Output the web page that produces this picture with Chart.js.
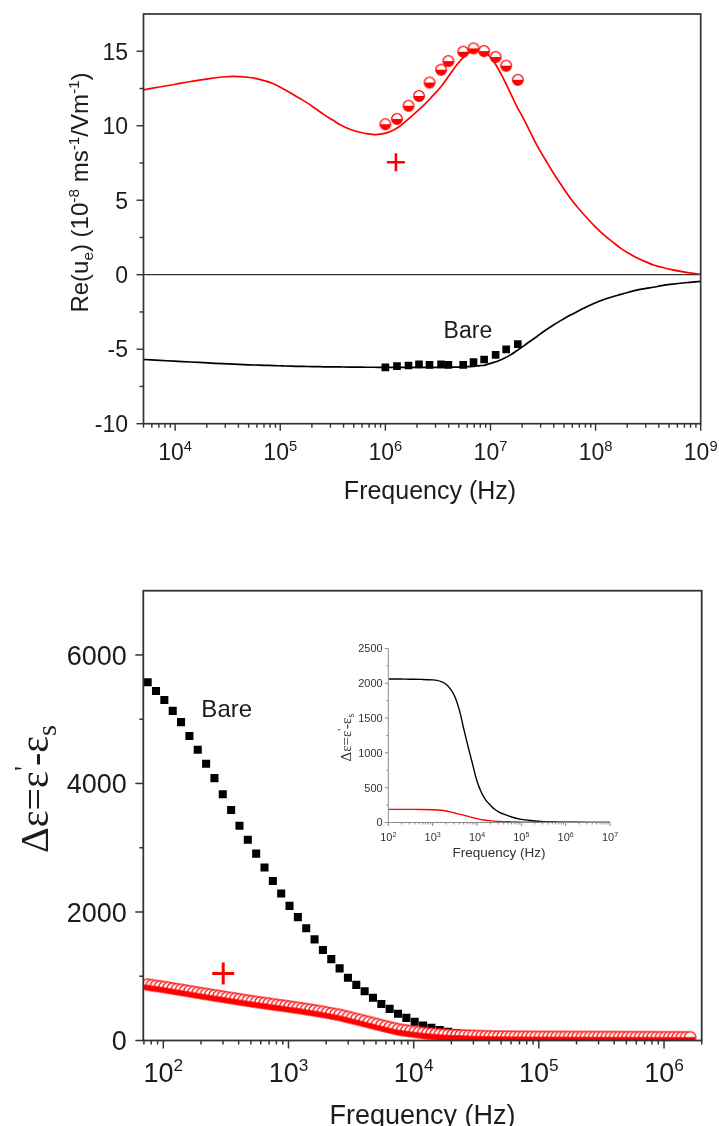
<!DOCTYPE html>
<html><head><meta charset="utf-8">
<script src="https://cdn.jsdelivr.net/npm/chart.js@4.4.1/dist/chart.umd.min.js"></script>
<style>
html,body{margin:0;padding:0;background:#fff;}
#wrap{position:relative;width:719px;height:1126px;overflow:hidden;background:#fff;}
canvas{position:absolute;}
</style>
</head><body><div id="wrap">
<canvas id="cTop" width="719" height="540" style="left:0;top:0"></canvas>
<canvas id="cBot" width="719" height="586" style="left:0;top:540px"></canvas>
<canvas id="cIns" width="320" height="250" style="left:310px;top:630px"></canvas>
</div>
<script>
// ================= DATA =================
// --- top panel: Re(u_e) vs frequency ---
const topFitFreq = [5.01e3,7.08e3,9.77e3,1.41e4,2.04e4,2.82e4,3.63e4,4.47e4,5.62e4,7.08e4,
  8.71e4,1.05e5,1.26e5,1.51e5,1.82e5,2.19e5,2.63e5,3.16e5,3.72e5,4.47e5,
  5.37e5,6.46e5,7.76e5,9.33e5,1.12e6,1.35e6,1.62e6,1.95e6,2.34e6,2.82e6,
  3.39e6,4.07e6,4.79e6,5.75e6,6.92e6,7.94e6,8.71e6,1.0e7,1.15e7,1.32e7,
  1.55e7,1.78e7,2.09e7,2.40e7,2.75e7,3.31e7,3.98e7,4.79e7,5.75e7,6.92e7,
  8.32e7,1.0e8,1.20e8,1.45e8,1.74e8,2.09e8,2.51e8,3.02e8,3.55e8,4.27e8,
  5.13e8,7.08e8,1.0e9];
const topFitCoated = [12.41,12.6,12.77,12.97,13.15,13.27,13.31,13.28,13.2,13.02,
  12.8,12.5,12.19,11.86,11.52,11.12,10.73,10.38,10.06,9.8,
  9.61,9.48,9.41,9.45,9.61,9.93,10.4,10.9,11.4,12.0,
  12.63,13.4,14.09,14.7,15.12,15.12,14.99,14.6,13.98,13.2,
  12.19,11.3,10.4,9.55,8.72,7.75,6.81,5.95,5.13,4.43,
  3.79,3.2,2.67,2.2,1.77,1.42,1.10,0.86,0.65,0.5,
  0.36,0.18,0.03];
const topFitBare = [-5.69,-5.75,-5.80,-5.86,-5.92,-5.97,-6.00,-6.03,-6.06,-6.08,
  -6.10,-6.12,-6.14,-6.15,-6.16,-6.17,-6.18,-6.18,-6.19,-6.20,
  -6.20,-6.21,-6.21,-6.22,-6.22,-6.22,-6.22,-6.22,-6.22,-6.22,
  -6.22,-6.21,-6.20,-6.18,-6.15,-6.10,-6.08,-5.95,-5.82,-5.64,
  -5.38,-5.10,-4.76,-4.45,-4.16,-3.74,-3.37,-3.03,-2.71,-2.42,
  -2.13,-1.88,-1.66,-1.48,-1.32,-1.16,-1.02,-0.92,-0.84,-0.73,
  -0.65,-0.54,-0.45];
const topMeasFreq = [1.0e6,1.29e6,1.66e6,2.09e6,2.63e6,3.39e6,3.98e6,5.5e6,6.9e6,8.7e6,1.12e7,1.41e7,1.82e7];
const topMeasCoated = [10.1,10.46,11.34,12.0,12.9,13.76,14.34,14.97,15.19,15.01,14.61,14.03,13.08];
const topMeasBare = [-6.22,-6.14,-6.09,-6.02,-6.05,-6.02,-6.05,-6.05,-5.87,-5.69,-5.38,-5.01,-4.66];
const topPlus = [{x:1.26e6, y:7.55}];
const topBareLabel = {x:6.1e6, y:-4.25, text:'Bare'};
const topXRange = [5000, 1e9];
const topYRange = [-10, 17.5];
const topXDecades = [4,5,6,7,8,9];
const topYTicks = [-10,-5,0,5,10,15];
const topYMinor = [-7.5,-2.5,2.5,7.5,12.5];

// --- bottom panel: delta epsilon vs frequency ---
const botBareFreq = [75.0,87.4,101.9,118.9,138.6,161.6,188.4,219.7,256.1,298.5,
  348.1,405.8,473.2,551.7,643.2,749.9,874.3,1019,1189,1386,
  1616,1884,2197,2561,2985,3481,4058,4732,5517,6432,
  7499,8743,10190,11890,13860,16160,18840,21970,25610,29850,
  34810,40580,47320,55170,64320,74990,87430,101900,118900,138600,
  161600,188400,219700,256100,298500,348100,405800,473200,551700,643200,
  749900,874300,1019000,1189000,1386000,1616000];
const botBareVals = [5574,5440,5299,5130,4955,4740,4524,4308,4083,3832,
  3587,3342,3124,2908,2692,2483,2289,2095,1920,1747,
  1574,1409,1266,1122,978,866,765,664,567,492,
  417,352,291,234,198,161,134,114,96,79,
  63,53,42,37,32,28,23,18,16,15,
  13,11,10,8,7,6,5,5,4,4,
  3,3,2,2,2,2];
const botCoatFreq = [75.0,81.0,87.4,94.4,101.9,110.0,118.9,128.4,138.6,149.7,
  161.6,174.5,188.4,203.4,219.7,237.2,256.1,276.5,298.5,322.3,
  348.1,375.9,405.8,438.2,473.2,511.0,551.7,595.7,643.2,694.5,
  749.9,809.7,874.3,944.1,1019,1100,1189,1284,1386,1497,
  1616,1745,1884,2034,2197,2372,2561,2765,2985,3223,
  3481,3759,4058,4382,4732,5110,5517,5957,6432,6945,
  7499,8097,8743,9441,10190,11000,11890,12840,13860,14970,
  16160,17450,18840,20340,21970,23720,25610,27650,29850,32230,
  34810,37590,40580,43820,47320,51100,55170,59570,64320,69450,
  74990,80970,87430,94410,101900,110000,118900,128400,138600,149700,
  161600,174500,188400,203400,219700,237200,256100,276500,298500,322300,
  348100,375900,405800,438200,473200,511000,551700,595700,643200,694500,
  749900,809700,874300,944100,1019000,1100000,1189000,1284000,1386000,1497000,
  1616000];
const botCoatVals = [870,861,851,842,832,821,810,799,789,778,
  767,756,745,734,724,713,703,693,682,672,
  661,651,641,630,620,610,601,592,582,573,
  564,555,546,537,527,518,509,499,489,478,
  468,458,446,434,422,410,398,382,367,351,
  335,320,303,286,270,253,237,221,206,190,
  175,163,154,145,137,128,119,112,107,102,
  97,92,87,84,81,79,77,74,72,70,
  68,67,65,64,62,62,61,61,60,59,
  59,58,58,57,57,57,57,56,56,56,
  56,56,55,55,55,55,55,54,54,54,
  54,54,53,53,53,53,53,52,52,52,
  52,52,51,51,51,51,51,51,50,50,
  50];
const botPlus = [{x:301, y:1043}];
const botBareLabel = {x:321, y:5036, text:'Bare'};
const botXRange = [69.2, 2.0e6];
const botYRange = [0, 7000];
const botXDecades = [2,3,4,5,6];
const botYTicks = [0,2000,4000,6000];
const botYMinor = [1000,3000,5000];

// --- inset: model curves ---
const insFreq = [100,178,316,562,1000,1259,1585,1995,2512,3162,3981,5012,6310,7943,10000,
  12589,15849,19953,25119,31623,39811,63096,100000,177828,316228,562341,1000000,3162278,10000000];
const insBare = [2060,2060,2058,2055,2048,2040,2020,1985,1920,1810,1620,1350,1090,840,595,
  430,320,250,190,150,120,75,45,25,12,7,4,2,1];
const insCoat = [188,188,188,187,183,180,175,165,152,136,120,105,88,70,55,
  42,32,25,19,15,12,8,6,4,3,2,2,1,1];
const insXRange = [100, 1e7];
const insYRange = [0, 2500];
const insXDecades = [2,3,4,5,6,7];
const insYTicks = [0,500,1000,1500,2000,2500];
const insYMinor = [250,750,1250,1750,2250];

// ================= HELPERS =================
const SANS = "'Liberation Sans', Arial, sans-serif";
const SERIF = "'Liberation Serif', 'Times New Roman', serif";
const TXT = '#1c1c1c';
const RED = '#ff0000';

const pts = (xs, ys) => xs.map((x, i) => ({x, y: ys[i]}));

function halfDot(r, color) {
  const s = Math.ceil(2 * r + 3);
  const c = document.createElement('canvas');
  c.width = s; c.height = s;
  const g = c.getContext('2d');
  const m = s / 2;
  g.beginPath(); g.arc(m, m, r, Math.PI, 2 * Math.PI); g.closePath(); g.fillStyle = '#fff'; g.fill();
  g.beginPath(); g.arc(m, m, r, 0, Math.PI); g.closePath(); g.fillStyle = color; g.fill();
  g.beginPath(); g.arc(m, m, r, 0, 2 * Math.PI); g.strokeStyle = color; g.lineWidth = 1.3; g.stroke();
  return c;
}

function line(ctx, x1, y1, x2, y2) { ctx.beginPath(); ctx.moveTo(x1, y1); ctx.lineTo(x2, y2); ctx.stroke(); }

function logMinor(min, max) {
  const out = [];
  for (let d = Math.floor(Math.log10(min)); d <= Math.ceil(Math.log10(max)); d++)
    for (let m = 2; m <= 9; m++) { const v = m * Math.pow(10, d); if (v >= min && v <= max) out.push(v); }
  return out;
}

// segs: [{t, k:'sup'|'sub'}]; (x,y) = baseline anchor
function drawRich(ctx, segs, x, y, size, family, o = {}) {
  const rot = o.rot || 0, align = o.align || 'center', sc = o.supScale || 0.64;
  ctx.save();
  ctx.translate(x, y); ctx.rotate(rot);
  let total = 0;
  const ps = segs.map(s => {
    const fs = s.k ? size * sc : size;
    ctx.font = `${fs}px ${family}`;
    const w = ctx.measureText(s.t).width;
    total += w;
    return {t: s.t, k: s.k, fs, w};
  });
  let cx = align === 'center' ? -total / 2 : (align === 'right' ? -total : 0);
  ctx.fillStyle = o.color || TXT; ctx.textAlign = 'left'; ctx.textBaseline = 'alphabetic';
  for (const p of ps) {
    ctx.font = `${p.fs}px ${family}`;
    const dy = p.k === 'sup' ? -size * 0.38 : (p.k === 'sub' ? size * 0.2 : 0);
    ctx.fillText(p.t, cx, dy);
    cx += p.w;
  }
  ctx.restore();
}

function drawAxes(chart, c) {
  const {ctx, chartArea: a} = chart;
  const x = chart.scales.x, y = chart.scales.y;
  ctx.save();
  ctx.strokeStyle = c.axisColor; ctx.lineWidth = c.axisWidth;
  if (c.box) ctx.strokeRect(a.left, a.top, a.right - a.left, a.bottom - a.top);
  else { line(ctx, a.left, a.top, a.left, a.bottom); line(ctx, a.left, a.bottom, a.right, a.bottom); }
  ctx.lineWidth = c.tickWidth;
  c.xDecades.forEach(d => { const p = x.getPixelForValue(Math.pow(10, d)); line(ctx, p, a.bottom, p, a.bottom + c.majLen); });
  logMinor(x.min, x.max).forEach(v => { const p = x.getPixelForValue(v); line(ctx, p, a.bottom, p, a.bottom + c.minLen); });
  c.yTicks.forEach(v => { const p = y.getPixelForValue(v); line(ctx, a.left, p, a.left - c.majLen, p); });
  c.yMinor.forEach(v => { const p = y.getPixelForValue(v); line(ctx, a.left, p, a.left - c.minLen, p); });
  ctx.restore();
  c.xDecades.forEach(d => {
    const p = x.getPixelForValue(Math.pow(10, d));
    drawRich(ctx, [{t: '10'}, {t: String(d), k: 'sup'}], p + (c.xLabShift || 0), c.xLabBase, c.tickFont, SANS, {color: c.labColor});
  });
  c.yTicks.forEach(v => {
    const p = y.getPixelForValue(v);
    drawRich(ctx, [{t: String(v)}], c.yLabRight, p + c.tickFont * 0.36, c.tickFont, SANS, {align: 'right', color: c.labColor});
  });
}

const noScale = (r, type) => ({type, min: r[0], max: r[1], display: false});
const baseOpts = (pad, xr, yr) => ({
  responsive: false, animation: false, devicePixelRatio: 1,
  layout: {padding: pad},
  plugins: {legend: {display: false}, tooltip: {enabled: false}},
  scales: {x: noScale(xr, 'logarithmic'), y: noScale(yr, 'linear')}
});

// ================= TOP CHART =================
new Chart(document.getElementById('cTop'), {
  type: 'scatter',
  data: {datasets: [
    {data: topPlus, pointStyle: 'cross', pointRadius: 9, pointBorderColor: RED, pointBorderWidth: 2.6, showLine: false},
    {data: pts(topMeasFreq, topMeasBare), pointStyle: 'rect', pointRadius: 5.4, pointBackgroundColor: '#000', pointBorderColor: '#000', pointBorderWidth: 0, showLine: false},
    {data: pts(topMeasFreq, topMeasCoated), pointStyle: halfDot(5.3, RED), pointRadius: 5.3, showLine: false},
    {data: pts(topFitFreq, topFitCoated), showLine: true, pointRadius: 0, borderColor: RED, borderWidth: 1.7, tension: 0.4},
    {data: pts(topFitFreq, topFitBare), showLine: true, pointRadius: 0, borderColor: '#000', borderWidth: 1.7, tension: 0.4}
  ]},
  options: baseOpts({left: 143.5, right: 18.3, top: 14, bottom: 116.3}, topXRange, topYRange),
  plugins: [{
    id: 'topDecor',
    beforeDatasetsDraw(chart) {
      const {ctx, chartArea: a} = chart; const p = chart.scales.y.getPixelForValue(0);
      ctx.save(); ctx.strokeStyle = '#333'; ctx.lineWidth = 1.3; line(ctx, a.left, p, a.right, p); ctx.restore();
    },
    afterDraw(chart) {
      const {ctx} = chart;
      drawAxes(chart, {box: true, axisColor: '#333', axisWidth: 1.7, tickWidth: 1.4, majLen: 7, minLen: 4,
        xDecades: topXDecades, yTicks: topYTicks, yMinor: topYMinor, tickFont: 23, xLabBase: 460, yLabRight: 128, labColor: TXT});
      drawRich(ctx, [{t: 'Frequency (Hz)'}], 430, 499, 25, SANS);
      drawRich(ctx, [{t: 'Re(u'}, {t: 'e', k: 'sub'}, {t: ') (10'}, {t: '-8', k: 'sup'}, {t: ' ms'}, {t: '-1', k: 'sup'}, {t: '/Vm'}, {t: '-1', k: 'sup'}, {t: ')'}],
        88, 192.5, 24, SANS, {rot: -Math.PI / 2});
      const bx = chart.scales.x.getPixelForValue(topBareLabel.x), by = chart.scales.y.getPixelForValue(topBareLabel.y);
      drawRich(ctx, [{t: topBareLabel.text}], bx, by, 23, SANS);
    }
  }]
});

// ================= BOTTOM CHART =================
new Chart(document.getElementById('cBot'), {
  type: 'scatter',
  data: {datasets: [
    {data: botPlus, pointStyle: 'cross', pointRadius: 11, pointBorderColor: RED, pointBorderWidth: 3, showLine: false},
    {data: pts(botCoatFreq, botCoatVals), pointStyle: halfDot(5.6, RED), pointRadius: 5.6, showLine: false},
    {data: pts(botBareFreq, botBareVals), pointStyle: 'rect', pointRadius: 5.7, pointBackgroundColor: '#000', pointBorderColor: '#000', pointBorderWidth: 0, showLine: false}
  ]},
  options: baseOpts({left: 143.3, right: 17.3, top: 50.7, bottom: 85.5}, botXRange, botYRange),
  plugins: [{
    id: 'botDecor',
    afterDraw(chart) {
      const {ctx} = chart;
      drawAxes(chart, {box: true, axisColor: '#333', axisWidth: 1.8, tickWidth: 1.5, majLen: 8, minLen: 4,
        xDecades: botXDecades, yTicks: botYTicks, yMinor: botYMinor, tickFont: 27, xLabBase: 541.7, yLabRight: 126.7, labColor: TXT});
      drawRich(ctx, [{t: 'Frequency (Hz)'}], 422.5, 584, 27, SANS);
      drawRich(ctx, [{t: 'Δε=ε'}, {t: "'", k: 'sup'}, {t: '-ε'}, {t: 's', k: 'sub'}], 48, 249, 40, SERIF, {rot: -Math.PI / 2, supScale: 0.7});
      const bx = chart.scales.x.getPixelForValue(botBareLabel.x), by = chart.scales.y.getPixelForValue(botBareLabel.y);
      drawRich(ctx, [{t: botBareLabel.text}], bx, by, 24, SANS);
    }
  }]
});

// ================= INSET =================
new Chart(document.getElementById('cIns'), {
  type: 'scatter',
  data: {datasets: [
    {data: pts(insFreq, insCoat), showLine: true, pointRadius: 0, borderColor: RED, borderWidth: 1.4, tension: 0.4},
    {data: pts(insFreq, insBare), showLine: true, pointRadius: 0, borderColor: '#000', borderWidth: 1.4, tension: 0.4}
  ]},
  options: baseOpts({left: 78.3, right: 20, top: 18.4, bottom: 57.5}, insXRange, insYRange),
  plugins: [{
    id: 'insDecor',
    afterDraw(chart) {
      const {ctx} = chart;
      drawAxes(chart, {box: false, axisColor: '#8a8a8a', axisWidth: 1, tickWidth: 1, majLen: 3.5, minLen: 2,
        xDecades: insXDecades, yTicks: insYTicks, yMinor: insYMinor, tickFont: 11, xLabBase: 211, yLabRight: 72.7, labColor: '#333'});
      drawRich(ctx, [{t: 'Frequency (Hz)'}], 189, 226.5, 13.5, SANS, {color: '#333'});
      drawRich(ctx, [{t: 'Δε=ε'}, {t: "'", k: 'sup'}, {t: '-ε'}, {t: 's', k: 'sub'}], 41, 107.5, 15, SERIF, {rot: -Math.PI / 2, supScale: 0.7, color: '#333'});
    }
  }]
});
</script>
</body></html>
